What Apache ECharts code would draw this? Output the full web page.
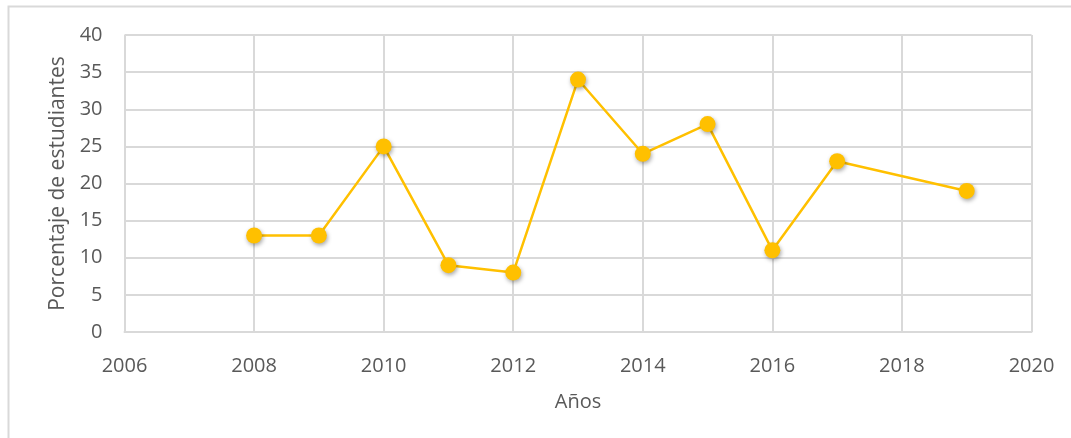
<!DOCTYPE html>
<html><head><meta charset="utf-8">
<script src="https://cdn.jsdelivr.net/npm/echarts@6/dist/echarts.min.js"></script>
<style>html,body{margin:0;padding:0;background:#fff}#c{width:1071px;height:438px}</style>
</head><body><div id="c"></div>
<script>
const years = [2008, 2009, 2010, 2011, 2012, 2013, 2014, 2015, 2016, 2017, 2019];
const values = [13, 13, 25, 9, 8, 34, 24, 28, 11, 23, 19];
const xTitle = 'Años';
const yTitle = 'Porcentaje de estudiantes';
const font = 'Open Sans';
const chart = echarts.init(document.getElementById('c'));
chart.setOption({
  animation: false,
  graphic: [{type:'rect', shape:{x:8.5,y:6.5,width:1080,height:450}, style:{fill:'none',stroke:'#d9d9d9',lineWidth:2}, silent:true}],
  grid: {left:124.5, right:39.5, top:35, bottom:106, containLabel:false},
  xAxis: {type:'value', min:2006, max:2020, interval:2,
    name:xTitle, nameLocation:'middle', nameGap:60,
    nameTextStyle:{fontFamily:font,fontSize:20,color:'#595959'},
    axisLine:{show:true,lineStyle:{color:'#d9d9d9',width:2}}, axisTick:{show:false},
    axisLabel:{fontFamily:font,fontSize:20,color:'#595959',margin:24, formatter:v=>String(v)},
    splitLine:{show:true,lineStyle:{color:'#d9d9d9',width:2}}},
  yAxis: {type:'value', min:0, max:40, interval:5,
    name:yTitle, nameLocation:'middle', nameGap:51,
    nameTextStyle:{fontFamily:font,fontSize:21,color:'#595959'},
    axisLine:{show:false}, axisTick:{show:false},
    axisLabel:{fontFamily:font,fontSize:20,color:'#595959',margin:22, padding:[10,0,0,0]},
    splitLine:{show:true,lineStyle:{color:'#d9d9d9',width:2}}},
  series: [{type:'line', data: years.map((y,i)=>[y, values[i]]),
    symbol:'circle', symbolSize:16,
    lineStyle:{color:'#FFC000',width:2.5},
    itemStyle:{color:'#FFC000', shadowColor:'rgba(0,0,0,0.35)', shadowBlur:4, shadowOffsetX:1, shadowOffsetY:2}}]
});
</script></body></html>
